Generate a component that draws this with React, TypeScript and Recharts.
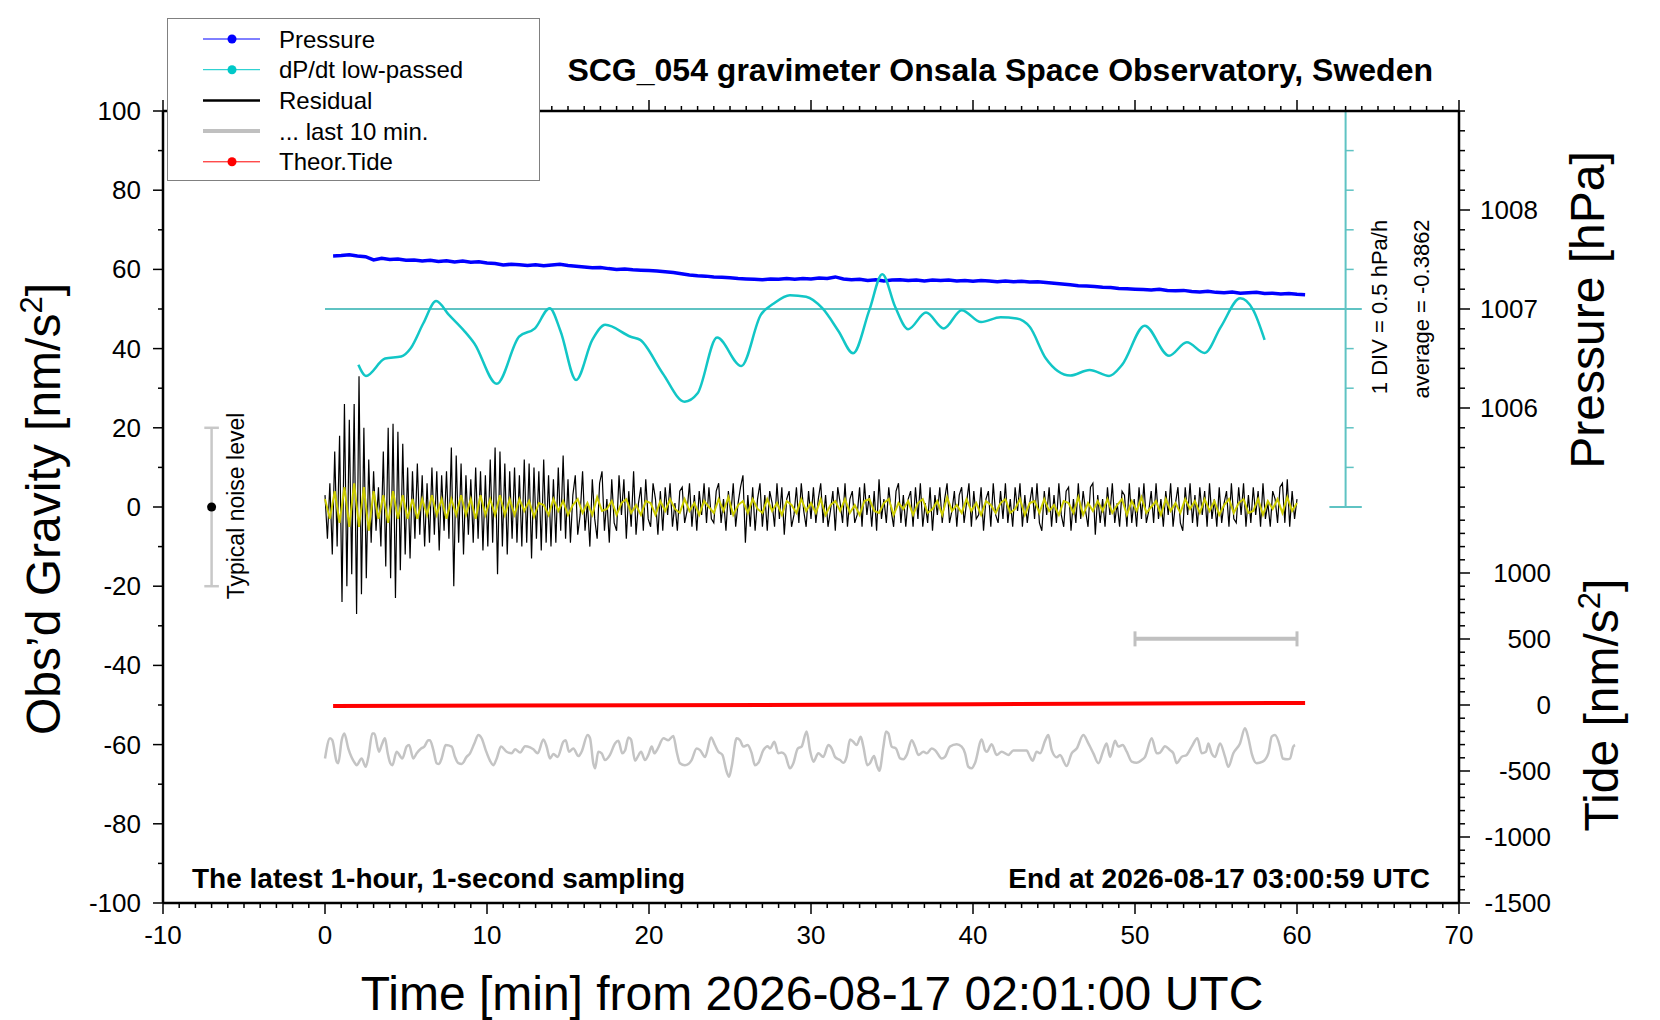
import React from "react";
import { LineChart, Line, XAxis, YAxis, ReferenceLine, ReferenceDot, Legend } from "recharts";

const FONT = "'Liberation Sans', Arial, Helvetica, sans-serif";

// residual gravity [nm/s^2], one reading every 0.15 min from 0 to 60 min
const RES_STEP = 0.15;
const residual = [
  3, -8, 6, -12, 14, -10, 18, -24, 26, -20, 22, -17, 26, -27, 33, -22, 20, -18, 12, -9,
  9, -6, 5, -10, 14, -15, 20, -18, 21, -23, 19, -16, 16, -12, 10, -13, 9, -8, 11, -7,
  8, -10, 6, -9, 10, -7, 9, -11, 8, -6, 9, -8, 15, -20, 13, -9, 11, -12, 8, -7,
  7, -9, 10, -8, 9, -11, 8, -10, 12, -9, 15, -17, 14, -10, 11, -12, 9, -8, 10, -9,
  8, -10, 12, -9, 11, -13, 10, -8, 9, -11, 12, -9, 8, -10, 7, -9, 10, -6, 13, -8,
  7, -9, 3, 8, -7, -2, 9, -6, 1, -10, 7, -3, -8, 6, 9, -6, 2, -9, 7, -4,
  -6, 8, -2, 7, -8, 4, -5, 9, -7, 1, 5, -6, 7, -3, -5, 6, 2, -7, 4, -6,
  5, -2, 6, -5, 1, -6, 4, 5, -4, -1, 6, -5, 3, -6, 4, -2, 6, -4, 5, -3,
  -4, 4, 6, -4, 2, -6, 4, -2, 6, -5, 1, 5, 8, -9, 3, -5, 5, -6, 2, 6,
  -5, 3, -6, 4, 1, -5, 6, -3, 5, -7, 2, 4, -5, -2, 5, -4, 6, -1, -5, 4,
  -3, 5, -4, 2, 6, -4, 3, -5, -1, 4, -6, 5, 1, -4, 6, -5, 2, 4, -4, -2,
  5, -5, 6, -2, 3, -5, 4, -6, 7, -3, 2, -4, 5, -1, -5, 4, 6, -4, 3, -5,
  2, 4, -5, 5, -3, 6, -5, 1, -4, 5, -6, 3, -2, 5, -4, 2, 6, -4, -1, 4,
  -5, 3, 5, -4, 1, 6, -5, 4, -3, -2, 5, -6, 2, 4, -5, 6, -2, -4, 4, -3,
  6, -4, 2, -5, 5, -1, 6, -5, 3, -4, 1, 5, -3, 6, -4, -6, 4, -2, 5, -5,
  3, -4, 6, -2, -5, 4, 5, -6, 2, -4, 6, -3, 4, -1, -5, 5, 6, -7, 3, -4,
  2, -5, 5, -2, 6, -4, 1, -5, 4, 3, -5, 6, -4, 2, -5, 5, -3, 6, -4, -1,
  4, -4, 6, -3, 2, -5, 4, -2, 6, -5, 1, 5, -4, -6, 5, -2, 6, -4, 3, -5,
  5, -2, 4, -5, 6, -3, 2, -5, 5, -4, 1, 4, -5, 6, -3, -4, 5, -2, 6, -5,
  3, -4, 5, -2, 4, -5, 6, -3, 1, -5, 4, 2, -4, 5, 6, -4, 7, -5, 4, -3, 2,
];

// filtered residual (yellow), one reading every 0.3 min
const SMOOTH_STEP = 0.3;
const smoothed = [
  2, -3, 4, -4, 5, -5, 6, -5, 5, -6, 4, -3, 3, -4, 4, -3, 3, -3, 2, -3,
  2, -2, 3, -2, 2, -3, 2, -2, 3, -2, 2, -3, 3, -2, 2, -2, 3, -2, 2, -2,
  2, -1, 1.5, -2.5, 1, 0.5, -2, 2, -1, 1.5, -2, 0.5, 2, -1.5, 1, -2, 2.5, -1, -0.5, 1.5,
  -2, 1, 2, -1.5, 0.5, -2, 1.5, 1, -2, 1.5, -1, 2, -0.5, -1.5, 2, -1, 1, -2, 1.5, 0,
  -1.5, 2, -1, 2.5, -2, 0.5, 1.5, -1.5, 2, -0.5, -1.5, 2, -1, 1, -2, 1.5, 0.5, -1.5, 2, -1,
  1, -1.5, 2, -2, 0.5, 1.5, -1, 2, -1.5, 0.5, -2, 1.5, 2, -1, -1.5, 1, 2, -2, 1, -0.5,
  1.5, -2, 1, 2, -1.5, -0.5, 1.5, -2, 2.5, -1, 0.5, -1.5, 2, -1, 1, -2, 1.5, 0.5, -1.5, 1,
  2, -1.5, -0.5, 2, -2, 1, 1.5, -1.5, 2, -1, 0.5, -2, 1.5, 1, -1.5, 2.5, -2, 1, -1, 1.5,
  -1, 2, -1.5, 0.5, 2, -2, 1.5, -1, 2.5, -1.5, 0, 1.5, -2, 2, -1, 1, -1.5, 2, -0.5, 1.5,
  -1.5, 2, -1, 1.5, -2, 0.5, 2, -1.5, 1, 2, -1.5, -1, 2, -2, 1.5, -0.5, 2, -1.5, 2.5, -1, 1,
];

// air pressure [hPa], every 0.5 min starting at 0.5 min
const P_START = 0.5;
const P_STEP = 0.5;
const pressure = [
  1007.536, 1007.540, 1007.548, 1007.536, 1007.528, 1007.496, 1007.512, 1007.500, 1007.504, 1007.492,
  1007.496, 1007.484, 1007.492, 1007.480, 1007.488, 1007.476, 1007.484, 1007.472, 1007.476, 1007.464,
  1007.460, 1007.444, 1007.452, 1007.448, 1007.440, 1007.448, 1007.436, 1007.444, 1007.452, 1007.440,
  1007.432, 1007.424, 1007.416, 1007.420, 1007.408, 1007.400, 1007.404, 1007.396, 1007.392, 1007.388,
  1007.384, 1007.376, 1007.368, 1007.356, 1007.344, 1007.336, 1007.332, 1007.324, 1007.320, 1007.316,
  1007.308, 1007.304, 1007.300, 1007.296, 1007.304, 1007.300, 1007.308, 1007.300, 1007.308, 1007.304,
  1007.312, 1007.308, 1007.324, 1007.304, 1007.296, 1007.300, 1007.288, 1007.296, 1007.284, 1007.292,
  1007.296, 1007.288, 1007.292, 1007.284, 1007.292, 1007.288, 1007.292, 1007.284, 1007.288, 1007.280,
  1007.288, 1007.284, 1007.276, 1007.284, 1007.276, 1007.280, 1007.272, 1007.276, 1007.268, 1007.260,
  1007.252, 1007.244, 1007.236, 1007.232, 1007.228, 1007.220, 1007.216, 1007.208, 1007.204, 1007.200,
  1007.196, 1007.192, 1007.200, 1007.188, 1007.184, 1007.188, 1007.176, 1007.172, 1007.180, 1007.168,
  1007.164, 1007.172, 1007.160, 1007.164, 1007.168, 1007.156, 1007.160, 1007.152, 1007.156, 1007.148,
  1007.144,
];

// dP/dt low-passed, plotted on the gravity scale around the 50 line: [min, value]
const dpdt: [number, number][] = [
  [2.06, 35.9], [2.53, 33.1], [3.71, 37.5], [4.7, 38.0], [5.29, 40.1], [6.07, 46.4], [6.86, 52.0],
  [7.65, 48.5], [8.63, 44.3], [9.22, 41.3], [10.6, 31.1], [11.98, 43.0], [12.96, 45.1], [13.87, 50.2],
  [14.54, 44.4], [15.5, 32.1], [16.5, 42.2], [17.3, 46.0], [18.87, 43.0], [19.46, 42.2], [20.84, 33.8],
  [22.2, 26.6], [23.0, 28.7], [24.2, 42.8], [25.7, 35.6], [26.9, 48.5], [27.7, 51.4], [28.7, 53.5],
  [29.7, 53.1], [30.7, 50.2], [31.7, 44.4], [32.6, 38.8], [33.6, 49.7], [34.4, 58.8], [35.2, 50.5],
  [36.0, 44.9], [37.1, 49.1], [38.2, 45.1], [39.3, 49.7], [40.5, 46.7], [41.7, 47.9], [42.7, 47.6],
  [43.5, 45.5], [44.5, 37.5], [46.0, 33.2], [47.2, 34.6], [48.4, 33.1], [49.2, 35.9], [50.6, 45.8],
  [52.1, 38.2], [53.2, 41.6], [54.3, 38.9], [55.3, 45.5], [56.5, 52.7], [57.3, 49.7], [58.0, 42.2],
];

// last 10 min of the residual, stretched over the hour and offset: [min, value]
const tail: [number, number][] = [
  [0, -63.5], [0.31, -58.4], [0.45, -58.9], [0.72, -64.3], [0.82, -64.7], [1.03, -58.9], [1.19, -57.2],
  [1.44, -61.0], [1.85, -64.7], [1.95, -65.2], [2.26, -63.5], [2.51, -65.6], [2.68, -63.1], [2.92, -57.2],
  [3.05, -57.2], [3.33, -61.8], [3.5, -60.1], [3.7, -58.4], [3.87, -62.2], [4.03, -64.7], [4.16, -65.2],
  [4.42, -61.8], [4.69, -63.2], [4.77, -63.5], [5.04, -60.5], [5.19, -60.1], [5.45, -63.5], [5.66, -62.2],
  [5.93, -61.0], [6.13, -60.5], [6.38, -58.9], [6.48, -58.9], [6.69, -61.4], [6.89, -64.7], [7.04, -64.9],
  [7.2, -63.5], [7.45, -60.1], [7.82, -60.5], [8.02, -63.1], [8.23, -64.7], [8.44, -64.9], [8.74, -63.1],
  [8.95, -62.2], [9.22, -59.7], [9.47, -57.6], [9.67, -58.4], [9.92, -61.4], [10.19, -64.1], [10.39, -65.2],
  [10.6, -63.5], [10.86, -60.5], [11.21, -61.8], [11.52, -62.2], [11.73, -61.2], [12.04, -62.0], [12.35, -60.4],
  [12.66, -60.7], [12.86, -61.2], [13.13, -62.2], [13.48, -58.7], [13.68, -60.5], [13.89, -63.5], [14.1, -62.4],
  [14.36, -63.1], [14.71, -59.3], [14.86, -58.9], [15.06, -61.8], [15.33, -61.0], [15.64, -62.9], [15.84, -61.8],
  [16.21, -57.6], [16.36, -58.4], [16.56, -64.7], [16.67, -66.0], [16.87, -61.8], [17.08, -62.2], [17.28, -63.9],
  [17.59, -62.6], [17.9, -59.7], [18.11, -59.0], [18.35, -62.2], [18.52, -61.5], [18.73, -58.2], [18.89, -58.7],
  [19.14, -64.1], [19.3, -63.1], [19.51, -61.8], [19.75, -63.9], [19.96, -62.6], [20.17, -60.5], [20.33, -62.2],
  [20.54, -61.0], [20.89, -58.4], [21.19, -58.9], [21.5, -57.8], [21.71, -61.8], [21.91, -64.7], [22.22, -65.2],
  [22.43, -64.9], [22.63, -63.9], [22.94, -61.0], [23.15, -61.4], [23.46, -63.1], [23.83, -58.2], [24.07, -60.1],
  [24.28, -61.8], [24.53, -62.6], [24.79, -66.8], [24.94, -68.1], [25.1, -65.6], [25.41, -58.4], [25.62, -58.9],
  [25.82, -60.5], [26.09, -60.1], [26.34, -62.2], [26.54, -65.2], [26.75, -64.6], [27.06, -61.4], [27.33, -60.4],
  [27.47, -61.0], [27.74, -59.3], [27.98, -62.2], [28.19, -62.0], [28.4, -62.6], [28.7, -66.0], [28.91, -64.7],
  [29.18, -61.0], [29.42, -60.5], [29.73, -56.7], [29.94, -61.5], [30.15, -64.3], [30.45, -62.2], [30.76, -63.1],
  [31.07, -60.1], [31.28, -61.0], [31.48, -63.1], [31.79, -63.9], [32.0, -64.6], [32.2, -63.1], [32.41, -58.7],
  [32.61, -59.3], [32.82, -60.1], [33.07, -58.0], [33.23, -60.5], [33.48, -65.2], [33.64, -64.7], [33.89, -62.9],
  [34.06, -65.2], [34.22, -66.6], [34.47, -60.5], [34.63, -56.7], [34.78, -57.2], [34.98, -60.5], [35.25, -61.0],
  [35.5, -63.5], [35.7, -63.7], [35.91, -62.6], [36.22, -58.9], [36.42, -60.5], [36.63, -62.6], [36.94, -61.8],
  [37.14, -62.2], [37.45, -61.0], [37.66, -61.4], [38.07, -63.5], [38.27, -63.1], [38.58, -60.5], [38.99, -59.9],
  [39.3, -60.5], [39.51, -62.2], [39.71, -65.6], [39.92, -66.0], [40.12, -64.7], [40.54, -58.7], [40.74, -61.4],
  [40.85, -61.8], [41.15, -59.9], [41.46, -62.6], [41.77, -61.8], [42.18, -62.6], [42.49, -61.5], [43.31, -61.5],
  [43.52, -63.1], [43.68, -64.1], [43.93, -61.8], [44.14, -62.2], [44.45, -59.0], [44.65, -57.6], [44.86, -61.4],
  [45.17, -63.2], [45.37, -62.6], [45.78, -65.4], [46.09, -62.2], [46.4, -61.0], [46.81, -57.6], [47.12, -59.7],
  [47.43, -62.2], [47.74, -64.7], [48.05, -61.4], [48.25, -59.7], [48.46, -63.1], [48.77, -59.0], [48.97, -60.5],
  [49.24, -60.1], [49.49, -61.8], [49.8, -64.3], [50.1, -64.6], [50.41, -63.9], [50.62, -63.1], [51.03, -58.4],
  [51.34, -62.2], [51.55, -62.0], [51.85, -60.4], [52.16, -61.4], [52.37, -62.2], [52.57, -64.7], [52.88, -63.1],
  [53.19, -62.6], [53.5, -60.5], [53.85, -58.4], [54.12, -62.2], [54.38, -61.8], [54.53, -59.7], [54.73, -62.2],
  [54.94, -63.1], [55.25, -59.7], [55.56, -63.1], [55.76, -65.6], [56.07, -62.2], [56.48, -59.7], [56.79, -55.9],
  [57.0, -58.4], [57.2, -62.2], [57.51, -64.7], [57.88, -64.3], [58.23, -62.2], [58.44, -58.0], [58.64, -57.6],
  [58.95, -60.5], [59.12, -63.5], [59.41, -63.7], [59.57, -63.5], [59.77, -60.5], [59.88, -60.1],
];

// theoretical tide [nm/s^2]
const tideTimes = [0.5, 20, 40, 60.5];
const tideValues = [-8, -2, 6, 16];

// axis ticks
const xMajor = [-10, 0, 10, 20, 30, 40, 50, 60, 70];
const xTicks = Array.from({ length: 81 }, (_, i) => i - 10);
const gMajor = [-100, -80, -60, -40, -20, 0, 20, 40, 60, 80, 100];
const gTicks = Array.from({ length: 21 }, (_, i) => -100 + i * 10);
const pMajor = [1006, 1007, 1008];
const pTicks = Array.from({ length: 21 }, (_, i) => +(1005 + i * 0.2).toFixed(1));
const tideMajor = [-1500, -1000, -500, 0, 500, 1000];
const tideTicks = Array.from({ length: 30 }, (_, i) => -1500 + i * 100);

// dP/dt scale bar (in gravity units) and its divisions
const scaleX = 63;
const scaleDivs = [10, 20, 30, 40, 50, 60, 70, 80, 90];
const dpdtZero = 50;

const legendItems = [
  { name: "Pressure", color: "#0000ff", width: 1, dot: true },
  { name: "dP/dt low-passed", color: "#00c8c8", width: 1, dot: true },
  { name: "Residual", color: "#000000", width: 2.5, dot: false },
  { name: "... last 10 min.", color: "#c0c0c0", width: 4, dot: false },
  { name: "Theor.Tide", color: "#ff0000", width: 1, dot: true },
];

const residualData = residual.map((g, i) => ({ t: +(i * RES_STEP).toFixed(2), g }));
const smoothData = smoothed.map((g, i) => ({ t: +(i * SMOOTH_STEP).toFixed(2), g }));
const pressureData = pressure.map((p, i) => ({ t: P_START + i * P_STEP, p }));
const dpdtData = dpdt.map(([t, g]) => ({ t, g }));
const tailData = tail.map(([t, g]) => ({ t, g }));
const tideData = tideTimes.map((t, i) => ({ t, tide: tideValues[i] }));

const tickText = { fontFamily: FONT, fontSize: 26, fill: "#000" };
const isMajor = (list: number[], v: number) => list.some((m) => Math.abs(m - v) < 1e-6);

function BottomTick({ x, y, payload }: any) {
  const major = isMajor(xMajor, payload.value);
  return (
    <g>
      <line x1={x} x2={x} y1={y} y2={y + (major ? 11 : 5)} stroke="#000" strokeWidth={1.5} />
      {major && (
        <text x={x} y={y + 41} textAnchor="middle" {...tickText}>
          {payload.value}
        </text>
      )}
    </g>
  );
}

function TopTick({ x, y, payload }: any) {
  const major = isMajor(xMajor, payload.value);
  return <line x1={x} x2={x} y1={y} y2={y - (major ? 11 : 5)} stroke="#000" strokeWidth={1.5} />;
}

function LeftTick({ x, y, payload }: any) {
  const major = isMajor(gMajor, payload.value);
  return (
    <g>
      <line x1={x} x2={x - (major ? 10 : 5)} y1={y} y2={y} stroke="#000" strokeWidth={1.5} />
      {major && (
        <text x={x - 22} y={y + 9} textAnchor="end" {...tickText}>
          {payload.value}
        </text>
      )}
    </g>
  );
}

function PressureTick({ x, y, payload }: any) {
  const major = isMajor(pMajor, payload.value);
  return (
    <g>
      <line x1={x} x2={x + (major ? 11 : 6)} y1={y} y2={y} stroke="#000" strokeWidth={1.5} />
      {major && (
        <text x={x + 21} y={y + 9} textAnchor="start" {...tickText}>
          {payload.value}
        </text>
      )}
    </g>
  );
}

function TideTick({ x, y, payload }: any) {
  const major = isMajor(tideMajor, payload.value);
  return (
    <g>
      <line x1={x - 1} x2={x + (major ? 10 : 5)} y1={y} y2={y} stroke="#000" strokeWidth={1.5} />
      {major && (
        <text x={x + 91} y={y + 9} textAnchor="end" {...tickText}>
          {payload.value}
        </text>
      )}
    </g>
  );
}

function LegendBox() {
  return (
    <div style={{ width: 373, height: 163, boxSizing: "border-box", border: "1px solid #808080", background: "#fff" }}>
      <svg width={371} height={161}>
        {legendItems.map((it, i) => {
          const cy = 20 + i * 30.7;
          return (
            <g key={it.name}>
              <line x1={35} x2={92} y1={cy} y2={cy} stroke={it.color} strokeWidth={it.width} />
              {it.dot && <circle cx={64} cy={cy} r={4.5} fill={it.color} />}
              <text x={111} y={cy + 8.5} fontFamily={FONT} fontSize={24} fill="#000">
                {it.name}
              </text>
            </g>
          );
        })}
      </svg>
    </div>
  );
}

const axisLine = { stroke: "#000", strokeWidth: 2.5 };
const cyanScale = "#5fc3c3";

export default function App() {
  return (
    <div style={{ position: "absolute", left: 0, top: 0, width: 1660, height: 1020, background: "#fff" }}>
      <LineChart width={1660} height={1020} margin={{ top: 110, right: 199, bottom: 116, left: 162 }}>
        <XAxis xAxisId="b" type="number" dataKey="t" domain={[-10, 70]} ticks={xTicks} interval={0}
          allowDataOverflow height={1} tickSize={0} tickMargin={0} tickLine={false} axisLine={axisLine} tick={<BottomTick />} />
        <XAxis xAxisId="top" orientation="top" type="number" dataKey="t" domain={[-10, 70]} ticks={xTicks} interval={0}
          allowDataOverflow height={1} tickSize={0} tickMargin={0} tickLine={false} axisLine={axisLine} tick={<TopTick />} />
        <YAxis yAxisId="g" type="number" domain={[-100, 100]} ticks={gTicks} interval={0} allowDataOverflow
          width={1} tickSize={0} tickMargin={0} tickLine={false} axisLine={axisLine} tick={<LeftTick />} />
        <YAxis yAxisId="p" orientation="right" type="number" domain={[1001, 1009]} ticks={pTicks} interval={0}
          allowDataOverflow width={1} tickSize={0} tickMargin={0} tickLine={false} axisLine={axisLine} tick={<PressureTick />} />
        <YAxis yAxisId="tide" orientation="right" type="number" domain={[-1500, 4500]} ticks={tideTicks} interval={0}
          allowDataOverflow width={1} tickSize={0} tickMargin={0} tickLine={false} axisLine={false} tick={<TideTick />} />

        {/* dP/dt scale bar and zero line */}
        <ReferenceLine xAxisId="b" yAxisId="g" segment={[{ x: 0, y: dpdtZero }, { x: scaleX + 1, y: dpdtZero }]} stroke={cyanScale} strokeWidth={2} />
        <ReferenceLine xAxisId="b" yAxisId="g" segment={[{ x: scaleX, y: 0 }, { x: scaleX, y: 100 }]} stroke={cyanScale} strokeWidth={2} />
        <ReferenceLine xAxisId="b" yAxisId="g" segment={[{ x: scaleX - 1, y: 0 }, { x: scaleX + 1, y: 0 }]} stroke={cyanScale} strokeWidth={2} />
        <ReferenceLine xAxisId="b" yAxisId="g" segment={[{ x: scaleX - 1, y: 100 }, { x: scaleX + 1, y: 100 }]} stroke={cyanScale} strokeWidth={2} />
        {scaleDivs.map((d) => (
          <ReferenceLine key={d} xAxisId="b" yAxisId="g" segment={[{ x: scaleX, y: d }, { x: scaleX + 0.5, y: d }]} stroke={cyanScale} strokeWidth={1.5} />
        ))}

        {/* typical noise level marker */}
        <ReferenceLine xAxisId="b" yAxisId="g" segment={[{ x: -7, y: -20 }, { x: -7, y: 20 }]} stroke="#c8c8c8" strokeWidth={2.5} />
        <ReferenceLine xAxisId="b" yAxisId="g" segment={[{ x: -7.45, y: 20 }, { x: -6.55, y: 20 }]} stroke="#c8c8c8" strokeWidth={2.5} />
        <ReferenceLine xAxisId="b" yAxisId="g" segment={[{ x: -7.45, y: -20 }, { x: -6.55, y: -20 }]} stroke="#c8c8c8" strokeWidth={2.5} />
        <ReferenceDot xAxisId="b" yAxisId="g" x={-7} y={0} r={4.5} fill="#000" stroke="none" />

        {/* last-10-min window bar */}
        <ReferenceLine xAxisId="b" yAxisId="g" segment={[{ x: 50, y: -33.3 }, { x: 60, y: -33.3 }]} stroke="#c0c0c0" strokeWidth={4} />
        <ReferenceLine xAxisId="b" yAxisId="g" segment={[{ x: 50, y: -35.2 }, { x: 50, y: -31.4 }]} stroke="#c0c0c0" strokeWidth={3} />
        <ReferenceLine xAxisId="b" yAxisId="g" segment={[{ x: 60, y: -35.2 }, { x: 60, y: -31.4 }]} stroke="#c0c0c0" strokeWidth={3} />

        <Line xAxisId="b" yAxisId="g" data={tailData} dataKey="g" type="monotone" stroke="#c4c4c4" strokeWidth={2.5}
          dot={false} activeDot={false} isAnimationActive={false} />
        <Line xAxisId="b" yAxisId="tide" data={tideData} dataKey="tide" type="linear" stroke="#ff0000" strokeWidth={4}
          dot={false} activeDot={false} isAnimationActive={false} />
        <Line xAxisId="b" yAxisId="g" data={residualData} dataKey="g" type="linear" stroke="#000" strokeWidth={1.2}
          dot={false} activeDot={false} isAnimationActive={false} />
        <Line xAxisId="b" yAxisId="g" data={smoothData} dataKey="g" type="linear" stroke="#cccc00" strokeWidth={2}
          dot={false} activeDot={false} isAnimationActive={false} />
        <Line xAxisId="b" yAxisId="p" data={pressureData} dataKey="p" type="linear" stroke="#0000ff" strokeWidth={3.5}
          dot={false} activeDot={false} isAnimationActive={false} />
        <Line xAxisId="b" yAxisId="g" data={dpdtData} dataKey="g" type="monotone" stroke="#12c6c6" strokeWidth={2.5}
          dot={false} activeDot={false} isAnimationActive={false} />

        <Legend layout="horizontal" verticalAlign="middle" align="center" content={<LegendBox />}
          wrapperStyle={{ left: 167, top: 18, width: 373, height: 163 }} />
      </LineChart>

      <svg width={1660} height={1020} style={{ position: "absolute", left: 0, top: 0, pointerEvents: "none" }} fontFamily={FONT}>
        <text x={1433} y={81} textAnchor="end" fontSize={32} fontWeight="bold">
          SCG_054 gravimeter Onsala Space Observatory, Sweden
        </text>
        <text x={192} y={888} fontSize={28} fontWeight="bold">The latest 1-hour, 1-second sampling</text>
        <text x={1430} y={888} textAnchor="end" fontSize={28} fontWeight="bold">End at 2026-08-17 03:00:59 UTC</text>
        <text x={812} y={1010} textAnchor="middle" fontSize={48}>Time [min] from 2026-08-17 02:01:00 UTC</text>
        <text transform="translate(60,509) rotate(-90)" textAnchor="middle" fontSize={48}>
          <tspan>Obs’d Gravity [nm/s</tspan>
          <tspan dy={-18} fontSize={31}>2</tspan>
          <tspan dy={18}>]</tspan>
        </text>
        <text transform="translate(1604,310) rotate(-90)" textAnchor="middle" fontSize={48}>Pressure [hPa]</text>
        <text transform="translate(1618,705) rotate(-90)" textAnchor="middle" fontSize={48}>
          <tspan>Tide [nm/s</tspan>
          <tspan dy={-18} fontSize={31}>2</tspan>
          <tspan dy={18}>]</tspan>
        </text>
        <text transform="translate(1387,307) rotate(-90)" textAnchor="middle" fontSize={22}>1 DIV = 0.5 hPa/h</text>
        <text transform="translate(1429,309) rotate(-90)" textAnchor="middle" fontSize={22}>average = -0.3862</text>
        <text transform="translate(244,506) rotate(-90)" textAnchor="middle" fontSize={23}>Typical noise level</text>
      </svg>
    </div>
  );
}
